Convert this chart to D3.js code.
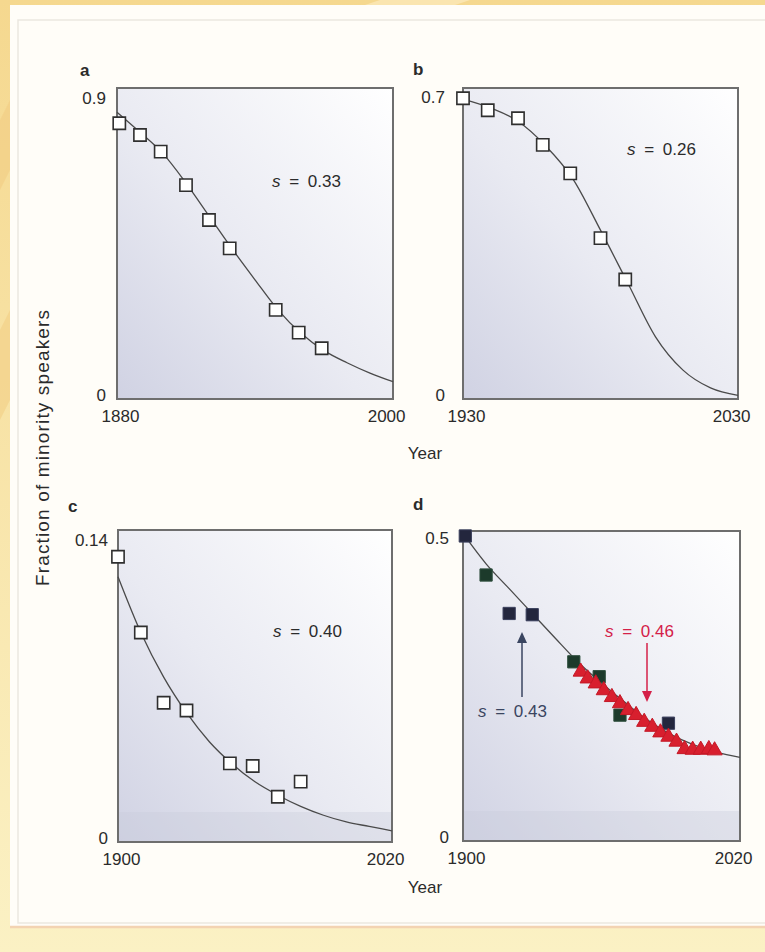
<!DOCTYPE html>
<html>
<head>
<meta charset="utf-8">
<script src="https://cdn.jsdelivr.net/npm/d3@7"></script>
<style>
  html, body { margin: 0; padding: 0; background: #f7e1a0; }
  svg { display: block; }
  text { font-family: "Liberation Sans", Arial, Helvetica, sans-serif; fill: #2b2b2b; }
</style>
</head>
<body>
<svg id="chart" width="765" height="952"></svg>
<script>
// ---- Panel a: census shares and fitted decline ----
const aYears  = [1881, 1890, 1899, 1910, 1920, 1929, 1949, 1959, 1969];
const aShares = [0.798, 0.764, 0.716, 0.619, 0.518, 0.436, 0.258, 0.192, 0.147];
const aFitYears  = [1880, 1890, 1900, 1910, 1920, 1930, 1940, 1950, 1960, 1970, 1980, 1990, 2000];
const aFitShares = [0.83, 0.772, 0.71, 0.625, 0.53, 0.435, 0.345, 0.258, 0.19, 0.14, 0.105, 0.075, 0.05];
const aXTicks = [1880, 2000];
const aYTicks = [0, 0.9];

// ---- Panel b ----
const bYears  = [1930, 1939, 1950, 1959, 1969, 1980, 1989];
const bShares = [0.677, 0.650, 0.632, 0.572, 0.508, 0.362, 0.269];
const bFitYears  = [1930, 1940, 1950, 1960, 1970, 1980, 1990, 2000, 2010, 2020, 2030];
const bFitShares = [0.675, 0.655, 0.625, 0.57, 0.495, 0.38, 0.26, 0.14, 0.065, 0.025, 0.008];
const bXTicks = [1930, 2030];
const bYTicks = [0, 0.7];

// ---- Panel c ----
const cYears  = [1900, 1910, 1920, 1930, 1949, 1959, 1970, 1980];
const cShares = [0.128, 0.094, 0.0625, 0.059, 0.0353, 0.0341, 0.0203, 0.0271];
const cFitYears  = [1900, 1910, 1920, 1930, 1940, 1950, 1960, 1970, 1980, 1990, 2000, 2010, 2020];
const cFitShares = [0.119, 0.094, 0.074, 0.058, 0.045, 0.035, 0.027, 0.021, 0.016, 0.012, 0.009, 0.007, 0.005];
const cXTicks = [1900, 2020];
const cYTicks = [0, 0.14];

// ---- Panel d: two record sets on one fitted curve ----
const dNavyYears  = [1901, 1920, 1930, 1989];
const dNavyShares = [0.492, 0.367, 0.365, 0.19];
const dGreenYears  = [1910, 1948, 1959, 1968];
const dGreenShares = [0.429, 0.289, 0.265, 0.203];
const dRedYears  = [1951, 1954, 1957.5, 1961, 1964.5, 1968, 1971.5, 1975, 1978.5, 1982, 1985.5, 1989, 1992.5, 1996, 1999.5, 2003, 2006.5, 2009];
const dRedShares = [0.273, 0.262, 0.254, 0.243, 0.232, 0.222, 0.211, 0.203, 0.192, 0.184, 0.175, 0.168, 0.160, 0.148, 0.147, 0.147, 0.148, 0.146];
const dFitYears  = [1900, 1910, 1920, 1930, 1940, 1950, 1960, 1970, 1980, 1990, 2000, 2010, 2020];
const dFitShares = [0.496, 0.447, 0.407, 0.367, 0.327, 0.288, 0.255, 0.224, 0.195, 0.172, 0.155, 0.143, 0.135];
const dXTicks = [1900, 2020];
const dYTicks = [0, 0.5];

// fitted status parameters
const sValues = [0.33, 0.26, 0.40, 0.43, 0.46];

const svg = d3.select("#chart");
const defs = svg.append("defs");

// plot-area wash: lavender at lower left fading to white at upper right
const wash = defs.append("linearGradient").attr("id", "wash")
  .attr("x1", 0).attr("y1", 1).attr("x2", 1).attr("y2", 0);
wash.append("stop").attr("offset", "0%").attr("stop-color", "#d0d2e3");
wash.append("stop").attr("offset", "45%").attr("stop-color", "#e9eaf2");
wash.append("stop").attr("offset", "100%").attr("stop-color", "#ffffff");

const bgFade = defs.append("linearGradient").attr("id", "bgFade")
  .attr("x1", 0).attr("y1", 0).attr("x2", 0).attr("y2", 1);
bgFade.append("stop").attr("offset", "0%").attr("stop-color", "#f5d88f");
bgFade.append("stop").attr("offset", "100%").attr("stop-color", "#fbf1c4");

// page backdrop and card
svg.append("rect").attr("width", 765).attr("height", 952).attr("fill", "url(#bgFade)");
svg.append("path").attr("d", "M0,120 L10,100 L10,170 L0,190 Z").attr("fill", "#f2cf86").attr("opacity", 0.7);
svg.append("path").attr("d", "M0,330 L10,310 L10,400 L0,420 Z").attr("fill", "#f2cf86").attr("opacity", 0.6);
svg.append("path").attr("d", "M380,0 L470,0 L455,5 L365,5 Z").attr("fill", "#fbe9b8").attr("opacity", 0.8);
svg.append("rect").attr("x", 10).attr("y", 5).attr("width", 760).attr("height", 923).attr("fill", "#fffdf8");
svg.append("rect").attr("x", 18).attr("y", 20).attr("width", 752).attr("height", 903)
  .attr("fill", "none").attr("stroke", "#ebe7df").attr("stroke-width", 1.5);
svg.append("line").attr("x1", 10).attr("x2", 765).attr("y1", 927).attr("y2", 927)
  .attr("stroke", "#f3d3b2").attr("stroke-width", 2.5);

const panels = [
  { letter: "a", box: [117, 88, 393, 399], xDom: [1880, 2000], yDom: [0, 0.9],
    xTicks: aXTicks, yTicks: aYTicks, fitX: aFitYears, fitY: aFitShares,
    letterPos: [80, 76], yLabGap: 11, topLabDy: 15, band: false },
  { letter: "b", box: [463, 88, 738, 399], xDom: [1930, 2030], yDom: [0, 0.7],
    xTicks: bXTicks, yTicks: bYTicks, fitX: bFitYears, fitY: bFitShares,
    letterPos: [413, 75], yLabGap: 18, topLabDy: 14, band: false },
  { letter: "c", box: [118, 530, 392, 842], xDom: [1900, 2020], yDom: [0, 0.14],
    xTicks: cXTicks, yTicks: cYTicks, fitX: cFitYears, fitY: cFitShares,
    letterPos: [68, 512], yLabGap: 10, topLabDy: 15, band: true },
  { letter: "d", box: [463, 531, 740, 841], xDom: [1900, 2020], yDom: [0, 0.5],
    xTicks: dXTicks, yTicks: dYTicks, fitX: dFitYears, fitY: dFitShares,
    letterPos: [413, 510], yLabGap: 14, topLabDy: 12, band: true }
];

panels.forEach(p => {
  const [x0, y0, x1, y1] = p.box;
  p.x = d3.scaleLinear().domain(p.xDom).range([x0, x1]);
  p.y = d3.scaleLinear().domain(p.yDom).range([y1, y0]);
  const g = svg.append("g");

  g.append("rect").attr("x", x0).attr("y", y0).attr("width", x1 - x0).attr("height", y1 - y0)
    .attr("fill", "url(#wash)");
  if (p.band) {
    g.append("rect").attr("x", x0).attr("y", y1 - 30).attr("width", x1 - x0).attr("height", 30)
      .attr("fill", "#c8cadb").attr("opacity", 0.35);
  }
  g.append("rect").attr("x", x0).attr("y", y0).attr("width", x1 - x0).attr("height", y1 - y0)
    .attr("fill", "none").attr("stroke", "#6e6e6e").attr("stroke-width", 2);

  // x axis: two end labels, no tick marks
  const xa = g.append("g").attr("transform", `translate(0,${y1})`)
    .call(d3.axisBottom(p.x).tickValues(p.xTicks).tickSize(0).tickFormat(d3.format("d")));
  xa.select(".domain").remove();
  xa.selectAll("text")
    .attr("font-size", 17).attr("fill", "#2b2b2b")
    .attr("y", 23).attr("dy", 0)
    .attr("text-anchor", (d, i) => i === 0 ? "middle" : "end")
    .attr("dx", (d, i) => i === 0 ? 3 : 12);
  xa.attr("font-family", null).attr("font-size", null);

  // y axis: bottom and top labels
  const ya = g.append("g").attr("transform", `translate(${x0},0)`)
    .call(d3.axisLeft(p.y).tickValues(p.yTicks).tickSize(0).tickFormat(d => String(d)));
  ya.select(".domain").remove();
  ya.selectAll("text")
    .attr("font-size", 17).attr("fill", "#2b2b2b")
    .attr("x", -p.yLabGap).attr("dy", 0)
    .attr("y", (d, i) => i === 0 ? 1 : p.topLabDy)
    .attr("text-anchor", "end");
  ya.attr("font-family", null).attr("font-size", null);

  // fitted curve
  const pts = p.fitX.map((v, i) => [v, p.fitY[i]]);
  g.append("path").datum(pts)
    .attr("d", d3.line().x(d => p.x(d[0])).y(d => p.y(d[1])).curve(d3.curveMonotoneX))
    .attr("fill", "none").attr("stroke", "#4a4a4a").attr("stroke-width", 1.3);

  g.append("text").attr("x", p.letterPos[0]).attr("y", p.letterPos[1])
    .attr("font-size", 17).attr("font-weight", "bold").attr("fill", "#1e1e1e").text(p.letter);
  p.g = g;
});

const square = d3.symbol().type(d3.symbolSquare).size(150);
const tri = d3.symbol().type(d3.symbolTriangle).size(100);

function openSquares(p, xs, ys) {
  p.g.selectAll(null).data(xs.map((v, i) => [v, ys[i]])).join("path")
    .attr("d", square)
    .attr("transform", d => `translate(${p.x(d[0])},${p.y(d[1])})`)
    .attr("fill", "#ffffff").attr("stroke", "#2f2f2f").attr("stroke-width", 1.6);
}
openSquares(panels[0], aYears, aShares);
openSquares(panels[1], bYears, bShares);
openSquares(panels[2], cYears, cShares);

const pd = panels[3];
function filled(xs, ys, sym, color, stroke) {
  pd.g.selectAll(null).data(xs.map((v, i) => [v, ys[i]])).join("path")
    .attr("d", sym)
    .attr("transform", d => `translate(${pd.x(d[0])},${pd.y(d[1])})`)
    .attr("fill", color).attr("stroke", stroke).attr("stroke-width", 1);
}
filled(dNavyYears, dNavyShares, square, "#23263d", "#3a3f5c");
filled(dGreenYears, dGreenShares, square, "#1c3a2b", "#30503f");
filled(dRedYears, dRedShares, tri, "#d81f2e", "#c41826");

// s labels
function sLabel(x, y, val, color) {
  const t = svg.append("text").attr("x", x).attr("y", y).attr("font-size", 17)
    .attr("fill", color).style("word-spacing", "4px");
  t.append("tspan").attr("font-style", "italic").attr("fill", color).text("s");
  t.append("tspan").attr("fill", color).text(" = " + val.toFixed(2));
}
sLabel(272, 187, sValues[0], "#2b2b2b");
sLabel(627, 155, sValues[1], "#2b2b2b");
sLabel(273, 637, sValues[2], "#2b2b2b");
sLabel(478, 717, sValues[3], "#3a4560");
sLabel(605, 637, sValues[4], "#d42048");

// arrows in panel d
function arrow(x, yFrom, yTip, color) {
  const dir = yTip < yFrom ? -1 : 1;
  svg.append("line").attr("x1", x).attr("x2", x).attr("y1", yFrom).attr("y2", yTip - dir * 8)
    .attr("stroke", color).attr("stroke-width", 1.5);
  svg.append("path")
    .attr("d", `M${x},${yTip} L${x - 5},${yTip - dir * 11} L${x + 5},${yTip - dir * 11} Z`)
    .attr("fill", color);
}
arrow(522, 697, 632, "#3a4560");
arrow(647, 643, 702, "#d42048");

// shared axis titles
svg.append("text").attr("transform", "translate(49,448) rotate(-90)")
  .attr("text-anchor", "middle").attr("font-size", 19)
  .attr("textLength", 276).attr("lengthAdjust", "spacing")
  .text("Fraction of minority speakers");
svg.append("text").attr("x", 425).attr("y", 459).attr("text-anchor", "middle")
  .attr("font-size", 17).text("Year");
svg.append("text").attr("x", 425).attr("y", 893).attr("text-anchor", "middle")
  .attr("font-size", 17).text("Year");
</script>
</body>
</html>
